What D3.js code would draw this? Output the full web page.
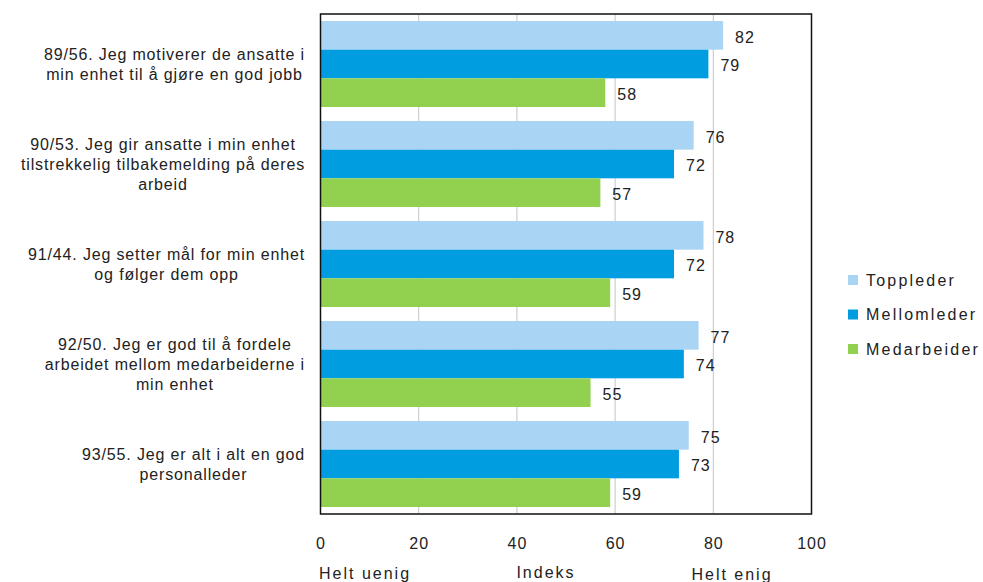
<!DOCTYPE html>
<html>
<head>
<meta charset="utf-8">
<script src="https://cdn.jsdelivr.net/npm/d3@7"></script>
<style>
  body { margin: 0; background: #fff; }
  svg text { font-family: "Liberation Sans", Arial, sans-serif; fill: #222; }
</style>
</head>
<body>
<div id="chart"></div>
<script>
// categories (each is a list of lines as in the original)
var categories = [
  ["89/56. Jeg motiverer de ansatte i", "min enhet til å gjøre en god jobb"],
  ["90/53. Jeg gir ansatte i min enhet", "tilstrekkelig tilbakemelding på deres", "arbeid"],
  ["91/44. Jeg setter mål for min enhet", "og følger dem opp"],
  ["92/50. Jeg er god til å fordele", "arbeidet mellom medarbeiderne i", "min enhet"],
  ["93/55. Jeg er alt i alt en god", "personalleder"]
];
var seriesNames = ["Toppleder", "Mellomleder", "Medarbeider"];
var toppleder = [82, 76, 78, 77, 75];
var mellomleder = [79, 72, 72, 74, 73];
var medarbeider = [58, 57, 59, 55, 59];
var xTicks = [0, 20, 40, 60, 80, 100];

var colors = ["#a9d4f4", "#009ee0", "#92d050"];
var seriesValues = [toppleder, mellomleder, medarbeider];

var width = 983, height = 582;
var margin = {top: 14, left: 320.5, right: 171.5, bottom: 68};
var plotW = width - margin.left - margin.right;
var plotH = height - margin.top - margin.bottom;

var svg = d3.select("#chart").append("svg")
    .attr("width", width)
    .attr("height", height);

var g = svg.append("g")
    .attr("transform", "translate(" + margin.left + "," + margin.top + ")");

var x = d3.scaleLinear().domain([0, 100]).range([0, plotW]);
var y = d3.scaleBand()
    .domain(d3.range(categories.length))
    .range([0, plotH])
    .paddingInner(0.14)
    .paddingOuter(0.07);
var ySub = d3.scaleBand()
    .domain(d3.range(seriesNames.length))
    .range([0, y.bandwidth()]);

// gridlines
g.selectAll(".grid")
  .data(xTicks.filter(function(d) { return d > 0 && d < 100; }))
  .enter().append("line")
    .attr("x1", function(d) { return x(d); })
    .attr("x2", function(d) { return x(d); })
    .attr("y1", 0)
    .attr("y2", plotH)
    .attr("stroke", "#c4c4c4")
    .attr("stroke-width", 1);

// bars
seriesValues.forEach(function(vals, s) {
  g.selectAll(".bar" + s)
    .data(vals)
    .enter().append("rect")
      .attr("x", 0)
      .attr("y", function(d, i) { return y(i) + ySub(s); })
      .attr("width", function(d) { return x(d); })
      .attr("height", ySub.bandwidth())
      .attr("fill", colors[s]);

  g.selectAll(".lbl" + s)
    .data(vals)
    .enter().append("text")
      .attr("x", function(d) { return x(d) + 12; })
      .attr("y", function(d, i) { return y(i) + ySub(s) + ySub.bandwidth() / 2; })
      .attr("dy", "0.45em")
      .style("font-size", "16px")
      .style("letter-spacing", "1px")
      .text(function(d) { return d; });
});

// frame
g.append("rect")
  .attr("x", 0).attr("y", 0)
  .attr("width", plotW).attr("height", plotH)
  .attr("fill", "none")
  .attr("stroke", "#111")
  .attr("stroke-width", 1.5);

// x axis
var xAxis = d3.axisBottom(x).tickValues(xTicks).tickSize(0).tickPadding(24);
g.append("g")
  .attr("transform", "translate(0," + plotH + ")")
  .call(function(a) {
    a.call(xAxis);
    a.select(".domain").remove();
    a.selectAll(".tick text")
      .style("font-size", "16px")
      .style("letter-spacing", "1px")
      .attr("fill", "#222")
      .style("font-family", "'Liberation Sans', Arial, sans-serif");
  });

// axis captions
var caps = svg.append("g").style("font-size", "16px").style("letter-spacing", "2px");
caps.append("text").attr("x", 319).attr("y", 579).text("Helt uenig");
caps.append("text").attr("x", 546).attr("y", 578).attr("text-anchor", "middle").text("Indeks");
caps.append("text").attr("x", 732).attr("y", 580).attr("text-anchor", "middle").text("Helt enig");

// category labels: block right-aligned, lines centered
var lineH = 20;
categories.forEach(function(lines, i) {
  var cy = margin.top + y(i) + y.bandwidth() / 2;
  var t = svg.append("text").style("font-size", "16px").style("letter-spacing", "0.85px").attr("text-anchor", "middle");
  var spans = t.selectAll("tspan").data(lines).enter().append("tspan").text(function(d) { return d; });
  var maxW = 0;
  spans.each(function() { maxW = Math.max(maxW, this.getComputedTextLength()); });
  var cx = 305 - maxW / 2;
  var y0 = cy - (lines.length - 1) * lineH / 2;
  spans.attr("x", cx)
    .attr("y", function(d, k) { return y0 + k * lineH; })
    .attr("dy", "0.35em");
});

// legend
var legend = svg.append("g").attr("transform", "translate(848,280)");
seriesNames.forEach(function(name, s) {
  var row = legend.append("g").attr("transform", "translate(0," + (s * 34.5) + ")");
  row.append("rect").attr("x", 0).attr("y", -5).attr("width", 10).attr("height", 10).attr("fill", colors[s]);
  row.append("text").attr("x", 18).attr("y", 0).attr("dy", "0.36em")
    .style("font-size", "16px").style("letter-spacing", "2.2px").text(name);
});
</script>
</body>
</html>
